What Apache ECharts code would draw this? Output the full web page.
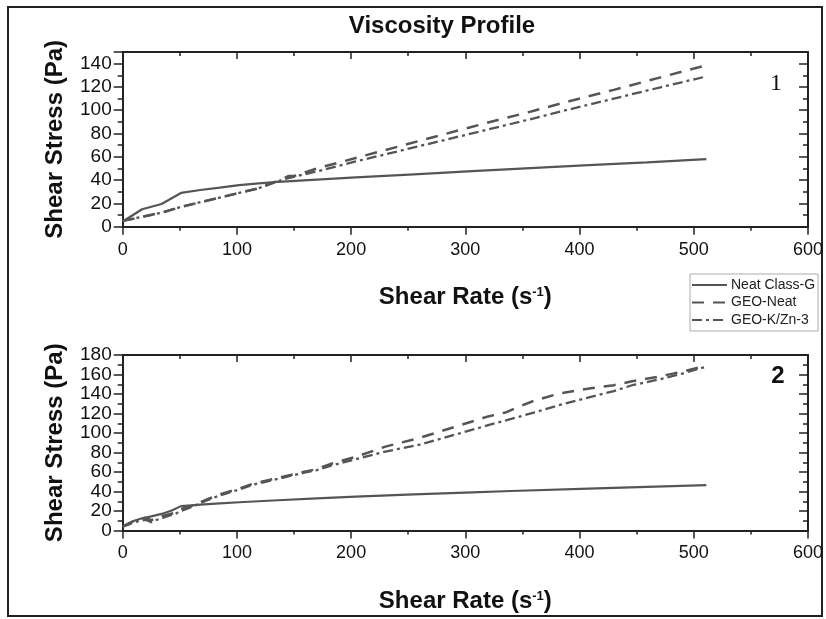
<!DOCTYPE html>
<html>
<head>
<meta charset="utf-8">
<script src="https://cdn.jsdelivr.net/npm/echarts@6/dist/echarts.min.js"></script>
<style>
html,body{margin:0;padding:0;background:#fff;}
#chart{width:826px;height:619px;}
</style>
</head>
<body>
<div id="chart"></div>
<script>
// ---------- Data ----------
const seriesNames = ['Neat Class-G', 'GEO-Neat', 'GEO-K/Zn-3'];
const xTicks = [0, 100, 200, 300, 400, 500, 600];

// Plot 1
const p1NeatX = [0, 17, 34, 51, 68, 85, 102, 119, 136, 170, 204, 255, 306, 340, 408, 459, 511];
const p1NeatY = [4.5, 15, 19.5, 29, 31.5, 33.5, 35.7, 37.2, 38.5, 40.5, 42.3, 45, 47.7, 49.5, 52.8, 55.3, 58];
const p1GeoX = [0, 17, 34, 51, 68, 85, 102, 119, 129, 138, 145, 150, 170, 204, 242, 280, 320, 360, 388, 430, 470, 511];
const p1GeoY = [5, 8.5, 12, 17, 21, 25, 29, 33, 37, 40, 43.5, 43.5, 50, 59, 69, 79, 89.5, 99.5, 107, 117.5, 128, 138.6];
const p1ZnX = [0, 17, 34, 51, 68, 85, 102, 119, 129, 142, 170, 204, 242, 280, 320, 360, 388, 430, 470, 511];
const p1ZnY = [5, 8.5, 12, 17, 21, 25, 29, 33, 36.5, 41, 47.5, 56, 65, 74, 83.5, 93, 100, 110, 119.5, 129];

// Plot 2
const p2NeatX = [0, 5, 10, 17, 25, 34, 43, 51, 60, 68, 85, 102, 136, 170, 204, 255, 306, 340, 408, 459, 511];
const p2NeatY = [4, 7, 10, 12.5, 14.5, 17, 20.5, 25, 25.8, 26.5, 27.8, 29, 31, 33, 34.8, 37, 39.2, 40.5, 43, 44.8, 46.5];
const p2GeoX = [0, 5, 10, 15, 20, 25, 30, 35, 40, 45, 51, 60, 72, 85, 102, 114, 136, 158, 170, 184, 204, 230, 260, 290, 320, 335, 345, 360, 382, 410, 430, 446, 470, 490, 511];
const p2GeoY = [4, 7, 10, 12, 13, 10.5, 13, 15, 16.5, 18, 22, 25, 31, 37, 43, 48, 54, 60, 63, 69, 75.5, 86, 95, 106, 117, 121, 126, 133, 140.5, 146, 149, 153, 158, 163, 169];
const p2ZnX = [0, 5, 10, 15, 20, 25, 30, 35, 40, 45, 51, 60, 72, 85, 102, 114, 136, 158, 170, 184, 204, 230, 260, 290, 320, 345, 360, 382, 410, 430, 446, 470, 490, 511];
const p2ZnY = [4, 6, 8.5, 10, 11, 8.5, 11, 13, 15, 16.5, 20, 24, 30, 36, 42, 47, 53, 59, 62, 67, 73, 81, 88, 98, 108, 116, 121, 128.5, 137, 143, 149, 155, 161, 168];

const panelLabels = ['1', '2'];
const xName = 'Shear Rate (s{sup|-1})';
const yName = 'Shear Stress (Pa)';

// ---------- Chart ----------
const FONT = '"Liberation Sans", Arial, sans-serif';
const LINE = '#555';
const AX = '#222';
const pairs = (xs, ys) => xs.map((x, i) => [x, ys[i]]);

function xAxes(gi) {
  const common = {
    gridIndex: gi, type: 'value', min: 0, max: 600, interval: 100,
    splitLine: {show: false},
    axisLine: {show: true, onZero: false, lineStyle: {color: AX, width: 2}},
    minorTick: {show: true, splitNumber: 2, length: 4, lineStyle: {color: AX, width: 1.5}}
  };
  return [
    Object.assign({}, common, {
      position: 'bottom',
      axisTick: {show: true, inside: false, length: 8, lineStyle: {color: AX, width: 1.5}},
      axisLabel: {show: true, margin: 14, fontSize: 18, color: '#111', fontFamily: FONT,
        showMinLabel: true, showMaxLabel: true, hideOverlap: false},
      name: xName, nameLocation: 'middle', nameGap: 59,
      nameTextStyle: {fontSize: 24, fontWeight: 'bold', color: '#111', fontFamily: FONT,
        rich: {sup: {fontSize: 13, fontWeight: 'bold', color: '#111', fontFamily: FONT, verticalAlign: 'top', padding: [0, 0, 10, 0]}}}
    }),
    Object.assign({}, common, {
      position: 'top',
      axisTick: {show: true, inside: true, length: 7, lineStyle: {color: AX, width: 1.5}},
      axisLabel: {show: false}
    })
  ];
}
function yAxes(gi, max) {
  const common = {
    gridIndex: gi, type: 'value', min: 0, max: max, interval: 20,
    splitLine: {show: false},
    axisLine: {show: true, onZero: false, lineStyle: {color: AX, width: 2}},
    minorTick: {show: true, splitNumber: 2, length: 5, lineStyle: {color: AX, width: 1.5}}
  };
  return [
    Object.assign({}, common, {
      position: 'left',
      axisTick: {show: true, inside: false, length: 9, lineStyle: {color: AX, width: 1.5}},
      axisLabel: {show: true, margin: 11, fontSize: 19, color: '#111', fontFamily: FONT,
        showMinLabel: true, showMaxLabel: true, hideOverlap: false,
        formatter: v => (v > 140 && max === 150) ? '' : String(v)},
      name: yName, nameLocation: 'middle', nameGap: 55,
      nameTextStyle: {fontSize: 24, fontWeight: 'bold', color: '#111', fontFamily: FONT}
    }),
    Object.assign({}, common, {
      position: 'right',
      axisTick: {show: true, inside: true, length: 9, lineStyle: {color: AX, width: 1.5}},
      axisLabel: {show: false}
    })
  ];
}

const lineStyles = [
  {color: LINE, width: 2.2, type: 'solid'},
  {color: LINE, width: 2.5, type: [12, 9]},
  {color: LINE, width: 2.3, type: [10, 4, 3, 4]}
];
function mk(name, gi, data, idx) {
  return {
    name: name, type: 'line', xAxisIndex: gi * 2, yAxisIndex: gi * 2,
    data: data, showSymbol: false, symbol: 'none', smooth: false,
    lineStyle: lineStyles[idx], itemStyle: {color: LINE}, silent: true, animation: false
  };
}

const chart = echarts.init(document.getElementById('chart'), null, {renderer: 'canvas'});
chart.setOption({
  backgroundColor: '#fff',
  animation: false,
  title: {
    text: 'Viscosity Profile', left: 442, top: 14, textAlign: 'center', padding: 0,
    textStyle: {fontSize: 24, fontWeight: 'bold', color: '#111', fontFamily: FONT}
  },
  legend: {
    orient: 'vertical', left: 690, top: 274,
    data: seriesNames,
    itemWidth: 35, itemHeight: 14, itemGap: 3.5,
    padding: [4, 3, 4, 1],
    itemStyle: {opacity: 0, borderWidth: 0},
    backgroundColor: '#fff', borderColor: '#aaa', borderWidth: 1, borderRadius: 0,
    textStyle: {fontSize: 14, color: '#222', fontFamily: FONT, padding: [0, 0, 0, -1]}
  },
  grid: [
    {left: 122.7, right: 17, top: 52, height: 174.7, containLabel: false},
    {left: 122.7, right: 17, top: 355, height: 175.5, containLabel: false}
  ],
  xAxis: [].concat(xAxes(0), xAxes(1)),
  yAxis: [].concat(yAxes(0, 150), yAxes(1, 180)),
  series: [
    mk(seriesNames[0], 0, pairs(p1NeatX, p1NeatY), 0),
    mk(seriesNames[1], 0, pairs(p1GeoX, p1GeoY), 1),
    mk(seriesNames[2], 0, pairs(p1ZnX, p1ZnY), 2),
    mk(seriesNames[0], 1, pairs(p2NeatX, p2NeatY), 0),
    mk(seriesNames[1], 1, pairs(p2GeoX, p2GeoY), 1),
    mk(seriesNames[2], 1, pairs(p2ZnX, p2ZnY), 2)
  ],
  graphic: [
    {type: 'rect', shape: {x: 8, y: 7, width: 814, height: 609}, style: {fill: 'none', stroke: '#222', lineWidth: 2}, silent: true, z: -1},
    {type: 'text', x: 776, y: 84, style: {text: panelLabels[0], font: '24px "Liberation Serif", "Times New Roman", serif', fill: '#111', align: 'center', verticalAlign: 'middle'}},
    {type: 'text', x: 778, y: 376, style: {text: panelLabels[1], font: 'bold 24px "Liberation Sans", Arial, sans-serif', fill: '#111', align: 'center', verticalAlign: 'middle'}}
  ]
});
</script>
</body>
</html>
